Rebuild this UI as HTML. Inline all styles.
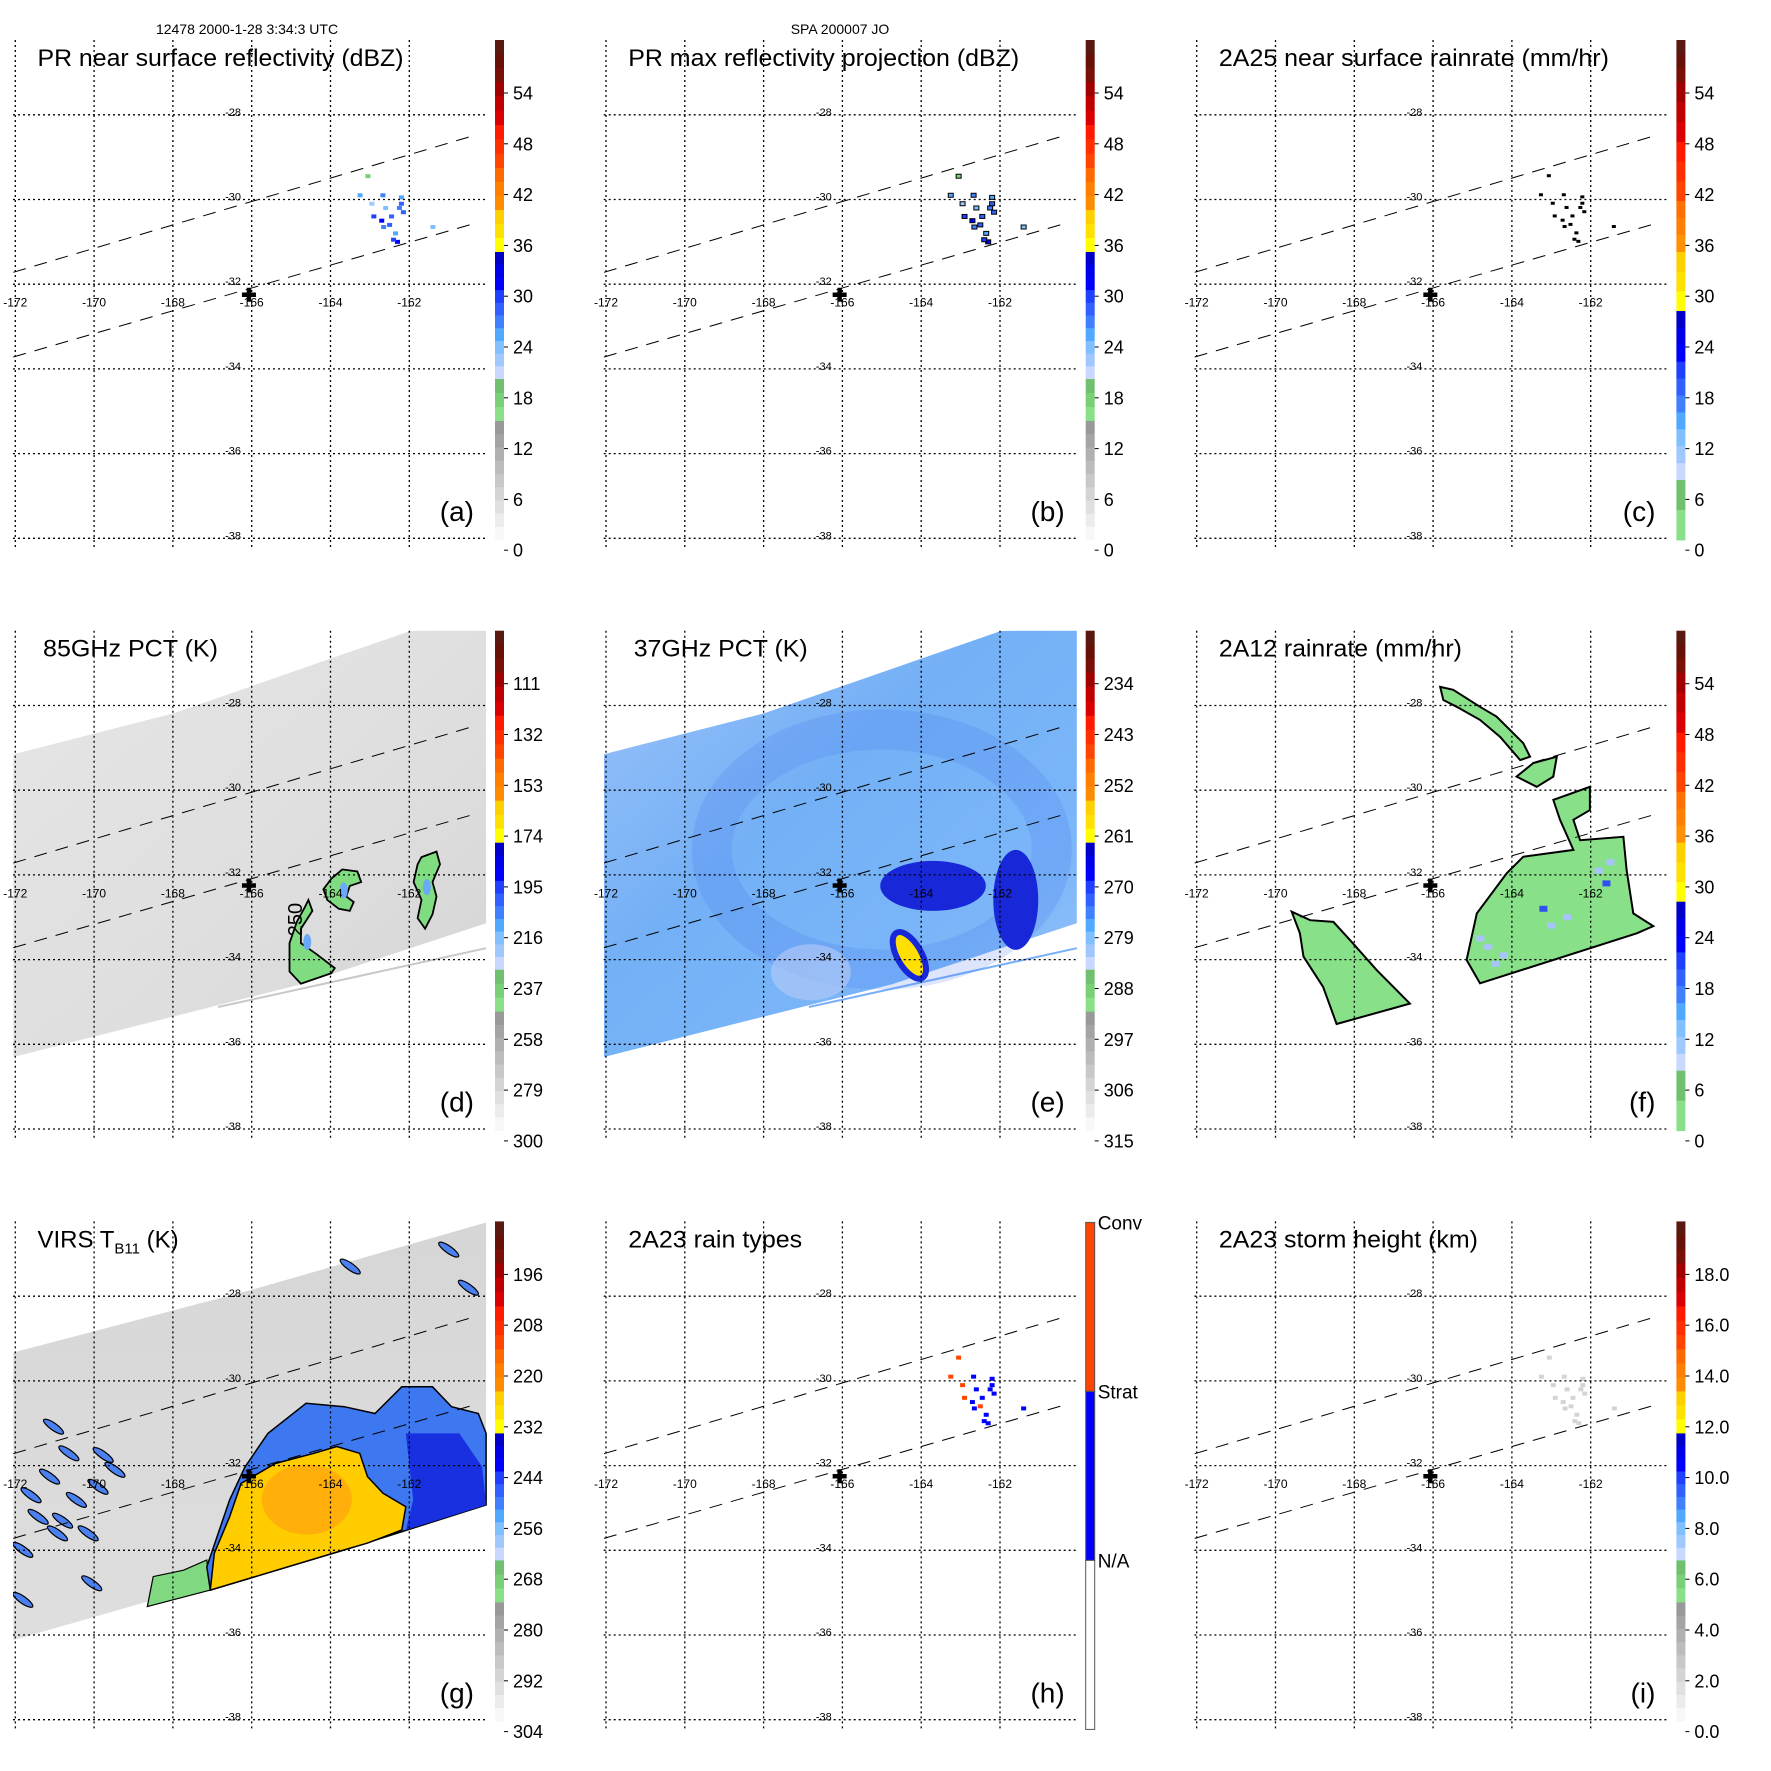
<!DOCTYPE html>
<html><head><meta charset="utf-8">
<style>
html,body{margin:0;padding:0;background:#fff;}
svg{display:block;font-family:"Liberation Sans",sans-serif;}
</style></head>
<body>
<svg id="fig" xmlns="http://www.w3.org/2000/svg" width="1771" height="1771" viewBox="0 0 1771 1771">
<rect x="0" y="0" width="1771" height="1771" fill="#fff"/>
<text x="247" y="34" font-size="14" text-anchor="middle">12478 2000-1-28 3:34:3 UTC</text>
<text x="840" y="34" font-size="14" text-anchor="middle">SPA 200007 JO</text>
</svg>
<script>
// ---- data ----
const lonTicks = [-172,-170,-168,-166,-164,-162];
const latTicks = [-28,-30,-32,-34,-36,-38];
const stormCenter = [-166.07,-32.25];
const prSwathUpper = [[-172.05,-31.72],[-160.29,-28.47]];
const prSwathLower = [[-172.05,-33.72],[-160.29,-30.55]];
const tmiSwath = [[-172.05,-29.15],[-168,-28.19],[-161.98,-26.24],[-160.05,-26.2],[-160.05,-33.14],[-164.74,-34.58],[-172.05,-36.3]];
const tmiEdgeLine = [[-166.85,-35.12],[-160.05,-33.73]];
const virsSwath = [[-172.05,-29.33],[-166,-27.85],[-160.05,-26.26],[-160.05,-32.92],[-172.05,-36.12]];
// PR echoes: lon, lat, dBZ
const prLon = [-162.67,-162.2,-162.9,-162.7,-162.5,-162.35,-162.3,-162.2,-162.6,-162.95,-162.65,-161.4,-163.05,-163.25,-162.45,-162.25,-162.15,-162.4];
const prLat = [-29.9,-30.1,-30.4,-30.5,-30.6,-30.8,-31.0,-29.95,-30.2,-30.1,-30.65,-30.65,-29.45,-29.9,-30.4,-30.2,-30.3,-30.95];
const prDbz = [27,28,30,31,29,26,31,25,24,23,27,24,19,26,28,27,29,30];
const rainType = [1,1,2,1,2,1,1,1,1,2,1,1,2,2,1,1,1,1]; // 2=conv,1=strat
// 2A12 rain areas
const rainBig = [[-164.13,-31.96],[-163.71,-31.57],[-162.44,-31.41],[-162.78,-30.70],[-162.95,-30.23],[-162.02,-29.92],[-162.02,-30.47],[-162.44,-30.70],[-162.27,-31.18],[-161.17,-31.10],[-161.09,-31.88],[-160.92,-32.91],[-160.41,-33.21],[-160.83,-33.38],[-164.81,-34.56],[-165.15,-34.01],[-164.89,-32.91]];
const rainArm = [[-165.82,-27.56],[-165.49,-27.63],[-164.81,-28.03],[-164.39,-28.26],[-163.71,-28.89],[-163.54,-29.21],[-163.79,-29.29],[-164.30,-28.74],[-164.81,-28.34],[-165.40,-28.03],[-165.74,-27.87]];
const rainMid = [[-163.46,-29.36],[-162.86,-29.21],[-162.95,-29.68],[-163.37,-29.92],[-163.88,-29.68]];
const rainLeft = [[-169.59,-32.87],[-169.12,-33.07],[-168.53,-33.11],[-168.11,-33.54],[-167.43,-34.25],[-166.59,-35.04],[-168.45,-35.52],[-168.79,-34.65],[-169.29,-33.93],[-169.38,-33.38]];
const rainSpeckLon = [-161.8,-161.6,-163.2,-162.6,-164.6,-164.2,-163.0,-161.5,-164.8,-164.4];
const rainSpeckLat = [-31.9,-32.2,-32.8,-33.0,-33.7,-33.9,-33.2,-31.7,-33.5,-34.1];
const rainSpeckVal = [14,18,20,12,13,16,11,10,12,14];
// 85GHz depressions
const pct85A = [[-163.98,-32.09],[-163.70,-31.87],[-163.32,-31.92],[-163.22,-32.17],[-163.51,-32.26],[-163.60,-32.51],[-163.41,-32.64],[-163.51,-32.85],[-163.79,-32.80],[-164.08,-32.59],[-164.18,-32.34]];
const pct85B = [[-161.69,-31.58],[-161.31,-31.45],[-161.22,-31.75],[-161.41,-32.17],[-161.31,-32.51],[-161.41,-32.93],[-161.60,-33.27],[-161.79,-33.02],[-161.69,-32.59],[-161.89,-32.17],[-161.79,-31.75]];
const pct85C = [[-164.56,-32.59],[-164.46,-32.85],[-164.75,-33.27],[-164.75,-33.61],[-164.37,-33.86],[-163.89,-34.20],[-163.98,-34.32],[-164.75,-34.57],[-165.04,-34.28],[-165.04,-33.61],[-164.85,-33.10],[-164.65,-32.76]];
// 37GHz features: lon0, lon1, lat0, lat1
const pct37Dark = [[-165.04,-162.36,-31.67,-32.85],[-162.17,-161.03,-31.41,-33.77]];
const pct37Yellow = [[-165.0,-163.6,-33.35,-34.45]];
// VIRS cloud regions
const virsCold = [[-166.17,-32.03],[-165.59,-31.24],[-164.62,-30.53],[-163.65,-30.61],[-162.87,-30.77],[-162.19,-30.14],[-161.41,-30.14],[-160.93,-30.61],[-160.25,-30.77],[-160.05,-31.24],[-160.05,-32.93],[-163.65,-33.99],[-167.05,-34.94],[-167.14,-34.39],[-166.85,-33.60],[-166.56,-32.81]];
const virsVeryCold = [[-166.27,-32.42],[-165.40,-31.95],[-164.42,-31.71],[-163.84,-31.55],[-163.26,-31.71],[-163.06,-32.26],[-162.67,-32.65],[-162.09,-32.97],[-162.19,-33.52],[-163.06,-33.83],[-163.65,-33.99],[-167.05,-34.94],[-166.95,-34.07],[-166.56,-33.21]];
const virsDeepBlue = [[-162.09,-31.24],[-160.73,-31.24],[-160.15,-32.03],[-160.05,-32.93],[-162.09,-33.52],[-161.90,-32.81]];
const virsGreen = [[-168.65,-35.33],[-168.50,-34.62],[-167.73,-34.47],[-167.14,-34.23],[-167.05,-34.94]];
const streakLon = [-171.03,-169.77,-169.47,-171.13,-170.45,-171.42,-170.93,-171.81,-170.06,-171.81,-170.64,-170.15,-163.5,-161.0,-160.5,-171.6,-170.8,-169.9];
const streakLat = [-31.08,-31.75,-32.10,-32.26,-32.81,-33.21,-33.60,-33.99,-34.78,-35.17,-31.71,-33.60,-27.30,-26.9,-27.8,-32.7,-33.3,-32.5];
// colorbar tick labels
const ticksDbz = ['54','48','42','36','30','24','18','12','6','0'];
const ticks85 = ['111','132','153','174','195','216','237','258','279','300'];
const ticks37 = ['234','243','252','261','270','279','288','297','306','315'];
const ticksVirs = ['196','208','220','232','244','256','268','280','292','304'];
const ticksHt = ['18.0','16.0','14.0','12.0','10.0','8.0','6.0','4.0','2.0','0.0'];

// ---- axes ----
function X(lon){return 15.3+(lon+172)*39.4;}
function Y(lat){return 114.8+(-28-lat)*42.35;}
const P=590.7;
const NS='http://www.w3.org/2000/svg';
const svg=document.getElementById('fig');
function mk(tag,attrs,parent){const e=document.createElementNS(NS,tag);for(const k in attrs)e.setAttribute(k,attrs[k]);(parent||svg).appendChild(e);return e;}
function pts(arr){return arr.map(p=>X(p[0]).toFixed(1)+','+Y(p[1]).toFixed(1)).join(' ');}

const darkR=['#5a1810','#661008','#781008'];
const blues=['#0000c8','#0000e8','#0000ff','#2040ff','#3060ff','#4080ff','#50a8ff','#80c0ff','#a0c8ff','#c8d8ff'];
const cbA=[[40,82,darkR],[82,168,['#a00000','#c00000','#d80000','#ff1a00','#ff3000','#ff4500']],[168,210,['#ff6a00','#ff8000','#ff8c00']],[210,252,['#ffd000','#ffe000','#ffff00']],[252,379,blues],[379,421,['#70c070','#78d078','#88e088']],[421,540,['#999999','#a4a4a4','#b0b0b0','#bcbcbc','#c8c8c8','#d4d4d4','#e0e0e0','#ececec','#f8f8f8']]];
const cbC=[[40,82,darkR],[82,142,['#a00000','#c00000','#d80000']],[142,201,['#ff1a00','#ff3000','#ff4500']],[201,252,['#ff7000','#ff8000','#ff9000']],[252,311,['#ffd000','#ffe000','#ffff00']],[311,480,blues],[480,540,['#70c070','#88e088']]];

function dbzColor(v){
  if(v<15) return '#bbb';
  if(v<20) return '#78d078';
  if(v<35){const i=Math.min(9,Math.max(0,Math.floor((35-v)/1.5)));return blues[i];}
  if(v<40) return '#ffe000';
  if(v<45) return '#ff8000';
  return '#d00000';
}

const panels=[
 {k:'a',c:0,r:0,t:'PR near surface reflectivity (dBZ)',tl:366,cb:cbA,ticks:ticksDbz},
 {k:'b',c:1,r:0,t:'PR max reflectivity projection (dBZ)',tl:391,cb:cbA,ticks:ticksDbz},
 {k:'c',c:2,r:0,t:'2A25 near surface rainrate (mm/hr)',tl:390,cb:cbC,ticks:ticksDbz},
 {k:'d',c:0,r:1,t:'85GHz PCT (K)',tl:175,cb:cbA,ticks:ticks85},
 {k:'e',c:1,r:1,t:'37GHz PCT (K)',tl:174,cb:cbA,ticks:ticks37},
 {k:'f',c:2,r:1,t:'2A12 rainrate (mm/hr)',tl:243,cb:cbC,ticks:ticksDbz},
 {k:'g',c:0,r:2,t:'VIRS',tl:0,cb:cbA,ticks:ticksVirs},
 {k:'h',c:1,r:2,t:'2A23 rain types',tl:174,cb:null,ticks:null},
 {k:'i',c:2,r:2,t:'2A23 storm height (km)',tl:259,cb:cbA,ticks:ticksHt}
];

const defs=mk('defs',{});
const gd=mk('linearGradient',{id:'gray85',x1:'0',y1:'0',x2:'1',y2:'1'},defs);
mk('stop',{offset:'0','stop-color':'#e6e6e6'},gd);mk('stop',{offset:'0.6','stop-color':'#dedede'},gd);mk('stop',{offset:'1','stop-color':'#d4d4d4'},gd);
const ge=mk('linearGradient',{id:'blue37',x1:'0',y1:'0',x2:'1',y2:'1'},defs);
mk('stop',{offset:'0','stop-color':'#9cc2f8'},ge);mk('stop',{offset:'0.4','stop-color':'#74b0f6'},ge);mk('stop',{offset:'0.75','stop-color':'#7ab6f8'},ge);mk('stop',{offset:'1','stop-color':'#a4c4f8'},ge);
const gg=mk('linearGradient',{id:'grayVirs',x1:'0',y1:'0',x2:'0',y2:'1'},defs);
mk('stop',{offset:'0','stop-color':'#d6d6d6'},gg);mk('stop',{offset:'1','stop-color':'#dedede'},gg);
const cp=mk('clipPath',{id:'plotclip'},defs);
mk('rect',{x:13,y:40,width:474,height:509},cp);

panels.forEach(p=>{
  const g=mk('g',{transform:`translate(${(p.c*P).toFixed(1)},${(p.r*P).toFixed(1)})`});
  
  
  const plot=mk('g',{'clip-path':'url(#plotclip)'},g);
  
  

  if(p.k==='d'||p.k==='e'){
    const sw=mk('polygon',{points:pts(tmiSwath),fill:p.k==='d'?'url(#gray85)':'url(#blue37)'},plot);
    
    
    const el=mk('polyline',{points:pts(tmiEdgeLine),fill:'none',stroke:p.k==='d'?'#c8c8c8':'#7ab0f8','stroke-width':2},plot);
    
    
  }
  if(p.k==='d'){
    [[pct85A,'pct-cell-east'],[pct85B,'pct-cell-far-east'],[pct85C,'pct-hook']].forEach(b=>{
      const e=mk('polygon',{points:pts(b[0]),fill:'#80dc80',stroke:'#000','stroke-width':1.8},plot);
      
      
      const cx=b[0].reduce((s,q)=>s+q[0],0)/b[0].length, cy=b[0].reduce((s,q)=>s+q[1],0)/b[0].length;
      const in1=mk('ellipse',{cx:X(cx),cy:Y(cy),rx:4,ry:8,fill:'#6aa8f8'},plot);
      
      
    });
    const lb=mk('text',{x:0,y:0,'font-size':20,transform:`translate(${X(-164.72)},${Y(-33.45)}) rotate(-90)`},plot);
    lb.textContent='250';
    
    
  }
  if(p.k==='e'){
    const ring=mk('ellipse',{cx:X(-165),cy:Y(-31.4),rx:170,ry:120,fill:'none',stroke:'#3f70f0','stroke-width':40,'stroke-opacity':0.18},plot);
    
    
    const lav=mk('ellipse',{cx:X(-166.8),cy:Y(-34.3),rx:40,ry:28,fill:'#b8ccf6','fill-opacity':0.6},plot);
    
    
    pct37Dark.forEach((d,i)=>{
      const e=mk('ellipse',{cx:(X(d[0])+X(d[1]))/2,cy:(Y(d[2])+Y(d[3]))/2,rx:Math.abs(X(d[1])-X(d[0]))/2,ry:Math.abs(Y(d[3])-Y(d[2]))/2,fill:'#1828d8'},plot);
      
      
    });
    pct37Yellow.forEach((d,i)=>{
      const cx=(X(d[0])+X(d[1]))/2, cy=(Y(d[2])+Y(d[3]))/2;
      const e=mk('ellipse',{cx:cx,cy:cy,rx:12,ry:26,fill:'#ffe000',stroke:'#1828d8','stroke-width':6,transform:`rotate(-30 ${cx} ${cy})`},plot);
      
      
    });
  }
  if(p.k==='g'){
    const sw=mk('polygon',{points:pts(virsSwath),fill:'url(#grayVirs)'},plot);
    
    
    const gr=mk('polygon',{points:pts(virsGreen),fill:'#80d880',stroke:'#000','stroke-width':1.2},plot);
    
    
    const cold=mk('polygon',{points:pts(virsCold),fill:'#3e78f0',stroke:'#000','stroke-width':1.5},plot);
    
    
    const db=mk('polygon',{points:pts(virsDeepBlue),fill:'#1830e0'},plot);
    
    
    const vc=mk('polygon',{points:pts(virsVeryCold),fill:'#ffcc00',stroke:'#000','stroke-width':1.5},plot);
    
    
    const or=mk('ellipse',{cx:X(-164.6),cy:Y(-32.8),rx:45,ry:35,fill:'#ff9a10','fill-opacity':0.6},plot);
    
    
    streakLon.forEach((lo,i)=>{
      const cx=X(lo),cy=Y(streakLat[i]);
      const e=mk('ellipse',{cx:cx,cy:cy,rx:12,ry:3.5,fill:'#4a80f0',stroke:'#000','stroke-width':1.2,transform:`rotate(35 ${cx} ${cy})`},plot);
      
      
    });
  }
  if(p.k==='f'){
    [[rainBig,'rain-area-main'],[rainArm,'rain-band-arm'],[rainMid,'rain-band-piece'],[rainLeft,'rain-area-west']].forEach(b=>{
      const e=mk('polygon',{points:pts(b[0]),fill:'#88e088',stroke:'#000','stroke-width':2},plot);
      
      
    });
    rainSpeckLon.forEach((lo,i)=>{
      const e=mk('rect',{x:X(lo)-4,y:Y(rainSpeckLat[i])-3,width:8,height:6,fill:rainSpeckVal[i]>16?'#3050f0':'#a8c4ff'},plot);
      
      
    });
  }
  if(['a','b','c','h','i'].includes(p.k)){
    prLon.forEach((lo,i)=>{
      let fill=dbzColor(prDbz[i]),stroke='none';
      if(p.k==='b'){stroke='#000';}
      if(p.k==='c'){fill='#000';}
      if(p.k==='h'){fill=rainType[i]===2?'#ff4500':'#0000ff';}
      if(p.k==='i'){fill='#d4d4d4';}
      const e=mk('rect',{x:X(lo)-2.5,y:Y(prLat[i])-2,width:p.k==='c'?4:5,height:p.k==='c'?3:4,fill:fill,stroke:stroke,'stroke-width':1},plot);
      
      
    });
  }

  // ---- grid ----
  lonTicks.forEach(lo=>{
    const l=mk('line',{x1:X(lo),x2:X(lo),y1:40,y2:548,stroke:'#000','stroke-width':1.3,'stroke-dasharray':'2 3'},g);
    
    
    const t=mk('text',{x:X(lo),y:Y(-32)+22.5,'font-size':12,'text-anchor':'middle'},g);
    t.textContent=String(lo);
    
    
  });
  latTicks.forEach(la=>{
    const l=mk('line',{x1:13,x2:487,y1:Y(la),y2:Y(la),stroke:'#000','stroke-width':1.3,'stroke-dasharray':'2 3'},g);
    
    
    const t=mk('text',{x:241,y:Y(la)+1,'font-size':11,'text-anchor':'end'},g);
    t.textContent=String(la);
    
    
  });
  [prSwathUpper,prSwathLower].forEach((s,i)=>{
    const l=mk('polyline',{points:pts(s),fill:'none',stroke:'#000','stroke-width':1,'stroke-dasharray':'13 9'},g);
    
    
  });
  const cx=X(stormCenter[0]),cy=Y(stormCenter[1]);
  const cr=mk('path',{d:`M${cx-7},${cy} H${cx+7} M${cx},${cy-7} V${cy+7}`,stroke:'#000','stroke-width':4.5},g);
  
  

  // ---- title ----
  const tt=mk('text',{x:p.k==='d'||p.k==='e'?43:37.5,y:66,'font-size':24},g);
  if(p.k==='g'){
    tt.textContent='VIRS T';
    const s=mk('tspan',{'font-size':15,dy:6},tt);s.textContent='B11';
    const s2=mk('tspan',{dy:-6},tt);s2.textContent=' (K)';
  } else {
    tt.textContent=p.t;
    tt.setAttribute('textLength',p.tl);
    tt.setAttribute('lengthAdjust','spacingAndGlyphs');
  }
  
  
  const lt=mk('text',{x:474,y:521,'font-size':28,'text-anchor':'end'},g);
  lt.textContent='('+p.k+')';
  
  

  // ---- colorbar ----
  const cbg=mk('g',{},g);
  
  
  if(p.cb){
    p.cb.forEach(b=>{
      const n=b[2].length,h=(b[1]-b[0])/n;
      b[2].forEach((col,j)=>{
        const r=mk('rect',{x:495,y:b[0]+j*h,width:9,height:h+0.4,fill:col},cbg);
        
        
      });
    });
    p.ticks.forEach((lab,i)=>{
      const y=93+i*50.8;
      const tk=mk('line',{x1:504,x2:508,y1:y,y2:y,stroke:'#000','stroke-width':1},cbg);
      
      
      const t=mk('text',{x:513,y:y+6.5,'font-size':18},cbg);
      t.textContent=lab;
      
      
    });
  } else {
    const segs=[[41,210,'#ff4500'],[210,379,'#0000ff'],[379,548,'#ffffff']];
    segs.forEach(s=>{
      const r=mk('rect',{x:495,y:s[0],width:9,height:s[1]-s[0],fill:s[2],stroke:'#555','stroke-width':1},cbg);
      
      
    });
    [['Conv',41],['Strat',210],['N/A',379]].forEach(c=>{
      const t=mk('text',{x:507,y:c[1]+7,'font-size':19},cbg);
      t.textContent=c[0];
      
      
    });
  }
});
</script>
</body></html>
